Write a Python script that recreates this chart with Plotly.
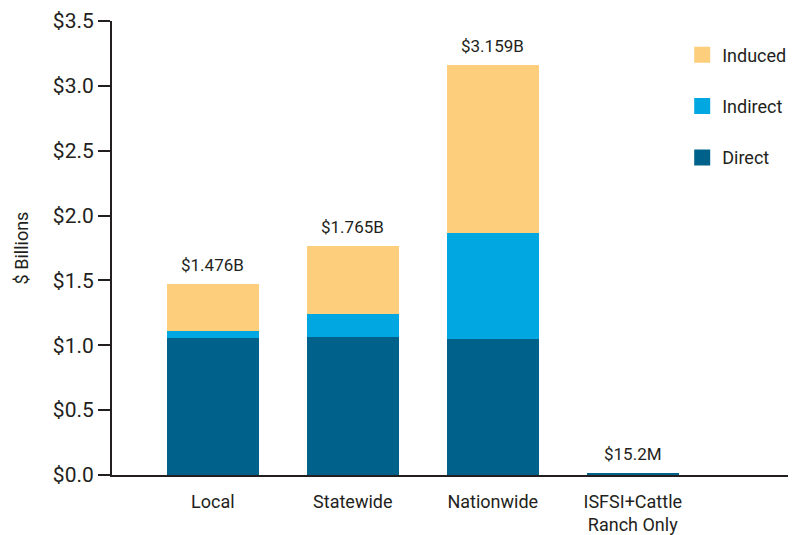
import plotly.graph_objects as go

# values in $ billions
categories = ["Local", "Statewide", "Nationwide", "ISFSI+Cattle<br>Ranch Only"]
direct = [1.054, 1.062, 1.047, 0.0152]
indirect = [0.054, 0.183, 0.817, 0.0]
induced = [0.368, 0.520, 1.295, 0.0]
total_labels = ["$1.476B", "$1.765B", "$3.159B", "$15.2M"]

ytick_vals = [0, 0.5, 1.0, 1.5, 2.0, 2.5, 3.0, 3.5]
ytick_text = ["$0.0", "$0.5", "$1.0", "$1.5", "$2.0", "$2.5", "$3.0", "$3.5"]

font_name = "Roboto"
ink = "#231F20"

fig = go.Figure()
series = [("Direct", direct, "#00628A", 3),
          ("Indirect", indirect, "#00A7E0", 2),
          ("Induced", induced, "#FDCE7C", 1)]
for name, vals, col, rank in series:
    fig.add_trace(go.Bar(
        name=name, x=categories, y=vals,
        marker_color=col, marker_line_width=0,
        width=0.657, showlegend=False,
    ))
    # bigger square swatches for the legend
    fig.add_trace(go.Scatter(
        name=name, x=[None], y=[None], mode="markers",
        marker=dict(symbol="square", size=19, color=col),
        legendgroup=name, legendrank=rank, showlegend=True,
    ))

totals = [a + b + c for a, b, c in zip(direct, indirect, induced)]
for cat, tot, lab in zip(categories, totals, total_labels):
    fig.add_annotation(x=cat, y=tot, text=lab, showarrow=False,
                       yanchor="bottom", yshift=7,
                       font=dict(family=font_name, size=17, color=ink))

# page body has an 8px margin, so margins are shifted to compensate
fig.update_layout(
    barmode="stack",
    width=796, height=535,
    margin=dict(l=104, r=0, t=13, b=68),
    plot_bgcolor="white", paper_bgcolor="white",
    font=dict(family=font_name, color=ink),
    legend=dict(x=0.824, y=0.966, xanchor="left", yanchor="top",
                traceorder="grouped", tracegroupgap=25,
                font=dict(size=18, color=ink), itemwidth=30),
    xaxis=dict(range=[-0.72, 4.223], showline=True, linecolor=ink, linewidth=2,
               ticks="", tickfont=dict(size=18, color=ink), showgrid=False,
               ticklabelstandoff=9, automargin=False),
    yaxis=dict(range=[0, 3.5], tickvals=ytick_vals, ticktext=ytick_text,
               showline=True, linecolor=ink, linewidth=2,
               ticks="outside", ticklen=12, tickwidth=2, tickcolor=ink,
               tickfont=dict(size=21, color=ink), showgrid=False, zeroline=False,
               automargin=False, ticklabeloverflow="allow",
               title=dict(text="$ Billions", font=dict(size=18, color=ink), standoff=20)),
)

fig.write_html("out.html")
